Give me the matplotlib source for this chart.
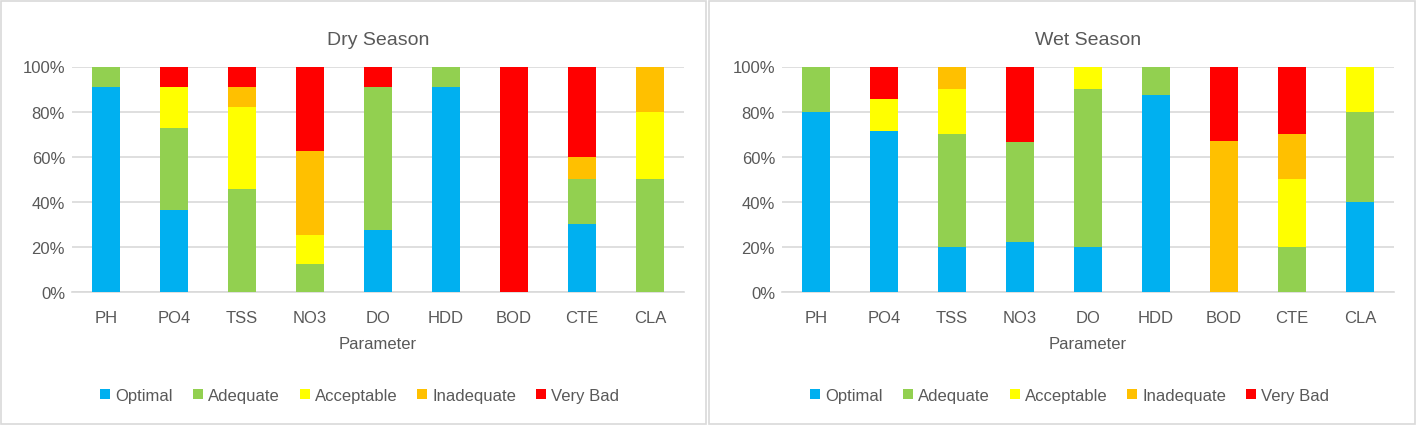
import numpy as np
import matplotlib
matplotlib.use("Agg")
import matplotlib.pyplot as plt
from matplotlib.patches import Rectangle
from matplotlib.ticker import FuncFormatter

plt.rcParams['font.family'] = ['Liberation Sans Narrow', 'Liberation Sans', 'DejaVu Sans']

categories = ['PH', 'PO4', 'TSS', 'NO3', 'DO', 'HDD', 'BOD', 'CTE', 'CLA']
classes = ['Optimal', 'Adequate', 'Acceptable', 'Inadequate', 'Very Bad']
colors = ['#00B0F0', '#92D050', '#FFFF00', '#FFC000', '#FF0000']

# percent of samples per class, dry season
dry_optimal = [90.9, 36.4, 0, 0, 27.3, 90.9, 0, 30, 0]
dry_adequate = [9.1, 36.4, 45.5, 12.5, 63.6, 9.1, 0, 20, 50]
dry_acceptable = [0, 18.2, 36.4, 12.5, 0, 0, 0, 0, 30]
dry_inadequate = [0, 0, 9.1, 37.5, 0, 0, 0, 10, 20]
dry_verybad = [0, 9.1, 9.1, 37.5, 9.1, 0, 100, 40, 0]

# wet season
wet_optimal = [80, 71.4, 20, 22.2, 20, 87.5, 0, 0, 40]
wet_adequate = [20, 0, 50, 44.4, 70, 12.5, 0, 20, 40]
wet_acceptable = [0, 14.3, 20, 0, 10, 0, 0, 30, 20]
wet_inadequate = [0, 0, 10, 0, 0, 0, 66.7, 20, 0]
wet_verybad = [0, 14.3, 0, 33.3, 0, 0, 33.3, 30, 0]

dry = [dry_optimal, dry_adequate, dry_acceptable, dry_inadequate, dry_verybad]
wet = [wet_optimal, wet_adequate, wet_acceptable, wet_inadequate, wet_verybad]

W, H = 1417, 427
fig = plt.figure(figsize=(W / 100, H / 100), dpi=100)

txt = '#595959'
grid = '#D9D9D9'

# panel frames
for x0, x1 in [(1, 706), (709, 1415)]:
    fig.patches.append(Rectangle((x0 / W, 1 - 425 / H), (x1 - x0) / W, (425 - 2) / H,
                                 transform=fig.transFigure, fill=False,
                                 edgecolor='#D9D9D9', linewidth=1.2))

def draw(ax, data, title):
    x = np.arange(len(categories))
    bottom = np.zeros(len(categories))
    for vals, lab, c in zip(data, classes, colors):
        vals = np.array(vals)
        ax.bar(x, vals, 0.4, bottom=bottom, color=c, label=lab, zorder=3)
        bottom += vals
    ax.set_xlim(-0.5, len(categories) - 0.5)
    ax.set_ylim(0, 100)
    ax.set_yticks(np.arange(0, 101, 20))
    ax.yaxis.set_major_formatter(FuncFormatter(lambda v, p: f'{v:.0f}%'))
    ax.set_xticks(x)
    ax.set_xticklabels(categories)
    ax.grid(axis='y', color=grid, linewidth=1.2, zorder=0)
    for s in ['top', 'right', 'left']:
        ax.spines[s].set_visible(False)
    ax.spines['bottom'].set_color(grid)
    ax.spines['bottom'].set_linewidth(1.2)
    ax.tick_params(length=0, labelsize=12, colors=txt)
    ax.tick_params(axis='x', pad=13)
    ax.tick_params(axis='y', pad=5)
    ax.set_xlabel('Parameter', fontsize=12, color=txt, labelpad=8)
    ax.set_title(title, fontsize=14, color=txt, y=1.1, pad=0)
    ax.legend(loc='center', bbox_to_anchor=(0.47, -0.46), ncol=5, frameon=False,
              fontsize=12, handlelength=0.6, handleheight=0.6, handletextpad=0.3,
              columnspacing=1.2, labelcolor=txt)

ax1 = fig.add_axes([72 / W, 1 - 292.7 / H, 612 / W, 225.2 / H])
ax2 = fig.add_axes([782 / W, 1 - 292.7 / H, 612 / W, 225.2 / H])
draw(ax1, dry, 'Dry Season')
draw(ax2, wet, 'Wet Season')

fig.savefig('out.png', dpi=100)
